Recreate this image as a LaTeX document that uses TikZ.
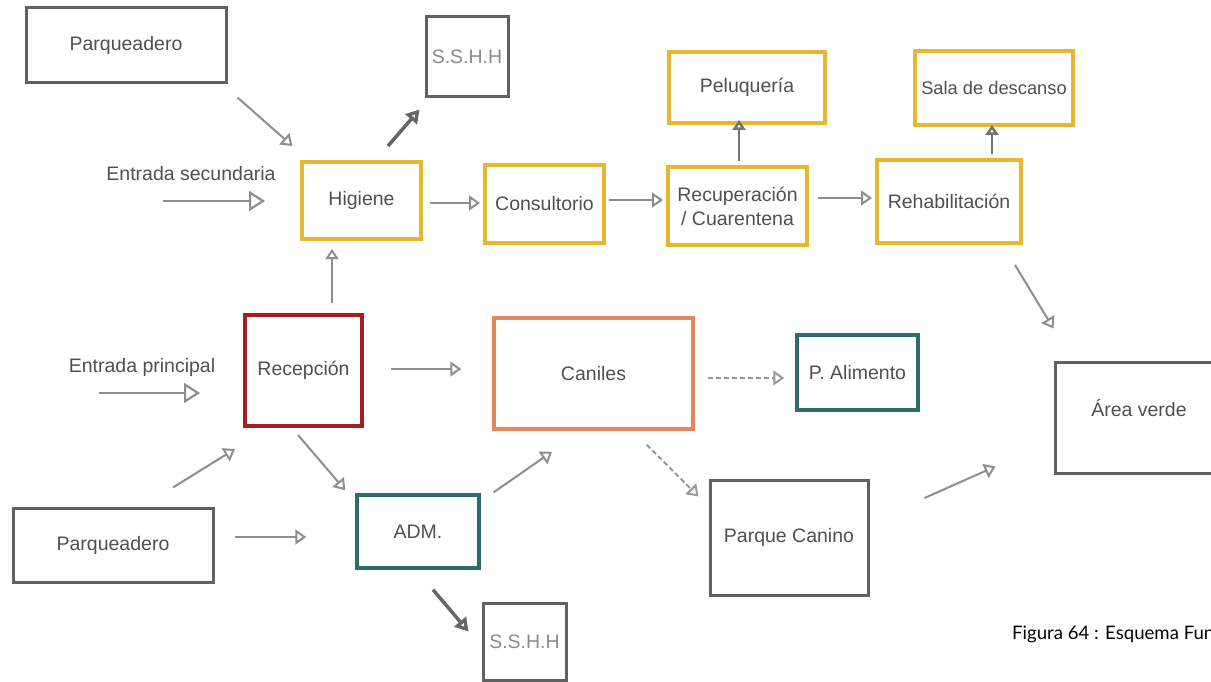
\documentclass[tikz,border=0pt]{standalone}
\usepackage{fontspec}
\setmainfont{Liberation Sans}
\newfontfamily\capfont{Lato}
\usetikzlibrary{arrows.meta,calc}
\definecolor{ygold}{HTML}{E8B730}
\definecolor{rred}{HTML}{A31F24}
\definecolor{oorange}{HTML}{E4885C}
\definecolor{tteal}{HTML}{2E6B69}
\definecolor{dgray}{HTML}{5E6260}
\definecolor{agray}{HTML}{8E8E8E}
\definecolor{tgray}{HTML}{505050}
\definecolor{lgray}{HTML}{8A8A8A}
\tikzset{
  box/.style={draw, rectangle, inner sep=0pt, text=tgray, font=\fontsize{19.5}{24}\selectfont},
  graybox/.style={box, draw=dgray, line width=3pt},
  yellowbox/.style={box, draw=ygold, line width=4pt},
  redbox/.style={box, draw=rred, line width=4pt},
  orangebox/.style={box, draw=oorange, line width=3.5pt},
  tealbox/.style={box, draw=tteal, line width=3.5pt},
  lbl/.style={text=tgray, inner sep=0pt, font=\fontsize{19.5}{24}\selectfont},
  arr/.style={draw=agray, line width=2pt, -{Triangle[open,length=11pt,width=15pt]}},
  arrbig/.style={draw=agray, line width=2.2pt, -{Triangle[open,length=16pt,width=20pt]}},
  arrdark/.style={draw=gray!90!black, line width=2.6pt, -{Triangle[open,length=10pt,width=13pt]}},
  arrthick/.style={draw=gray!80!black, line width=3.5pt, -{Triangle[open,length=13pt,width=15pt]}},
  arrdash/.style={draw=agray!90, line width=2pt, dash pattern=on 5pt off 3pt, -{Triangle[open,length=11pt,width=15pt]}}
}
\begin{document}
\begin{tikzpicture}[x=1pt,y=-1pt]
\useasboundingbox (0,0) rectangle (1211,682);
\fill[white] (0,0) rectangle (1211,682);
\clip (0,0) rectangle (1211,682);
% nodes
\node[graybox, minimum width=200pt, minimum height=75pt] (parqT) at (126,45.5) {Parqueadero};
\node[graybox, minimum width=82pt, minimum height=80pt, text=lgray] (sshhT) at (467,57) {S.S.H.H};
\node[yellowbox, minimum width=119pt, minimum height=77pt] (hig) at (361.5,200.5) {Higiene};
\node[yellowbox, minimum width=119pt, minimum height=78pt] (cons) at (544.5,204) {Consultorio};
\node[yellowbox, minimum width=139pt, minimum height=78pt, align=center] (recu) at (737.5,206) {Recuperación\\/ Cuarentena};
\node[yellowbox, minimum width=156pt, minimum height=71pt] (pelu) at (747,87.5) {Peluquería};
\node[yellowbox, minimum width=144pt, minimum height=83pt] (rehab) at (949,201.5) {Rehabilitación};
\node[yellowbox, minimum width=158pt, minimum height=74pt, font=\fontsize{18.3}{21}\selectfont] (sala) at (994,88) {Sala de descanso};
\node[redbox, minimum width=117pt, minimum height=111pt] (recep) at (303.5,370.5) {Recepción};
\node[orangebox, minimum width=199pt, minimum height=111pt] (canil) at (593.5,373.5) {Caniles};
\node[tealbox, minimum width=121pt, minimum height=75pt] (palim) at (857.5,372.5) {P. Alimento};
\node[graybox, minimum width=170pt, minimum height=111pt] (area) at (1140,417.5) {};
\node[lbl] (areat) at (1139,408) {Área verde};
\node[graybox, minimum width=200pt, minimum height=74pt] (parqB) at (113,545) {Parqueadero};
\node[tealbox, minimum width=122pt, minimum height=73pt] (adm) at (418,531.5) {ADM.};
\node[graybox, minimum width=83pt, minimum height=77pt, text=lgray] (sshhB) at (524.5,641.5) {S.S.H.H};
\node[graybox, minimum width=158pt, minimum height=115pt] (parqC) at (789,537.5) {Parque Canino};
% free labels
\node[lbl] (entS) at (191,174) {Entrada secundaria};
\node[lbl] (entP) at (142,367) {Entrada principal};
\node[anchor=west, inner sep=0pt, font=\capfont\fontsize{18.6}{23}\selectfont] (cap) at (1012,634) {Figura 64 : Esquema Funcional};
\coordinate (es0) at (163,201);
\coordinate (ep0) at (99,393);
% connectors
\draw[arr] ($(parqT.south east)+(10,13)$) -- ($(hig.north west)+(-7.5,-14)$);
\draw[arrbig] (es0) -- ($(hig.west)+(-35,0.5)$);
\draw[arrthick] ($(hig.north)+(26.5,-14)$) -- ($(sshhT.south west)+(-5,11)$);
\draw[arr] ($(hig.east)+(7,2.5)$) -- ($(cons.west)+(-3,-1)$);
\draw[arr] ($(cons.east)+(3,-4)$) -- ($(recu.west)+(-3,-6)$);
\draw[arrdark] ($(recu.north)+(1.5,-4)$) -- ($(pelu.south)+(-8,-5)$);
\draw[arr] ($(recu.east)+(9,-8)$) -- ($(rehab.west)+(-3,-3.5)$);
\draw[arrdark] ($(rehab.north)+(43,-4)$) -- ($(sala.south)+(-2,-2)$);
\draw[arr] ($(rehab.south east)+(-8,20)$) -- ($(area.north west)+(0,-32)$);
\draw[arrdark, draw=agray, line width=2pt] ($(recep.north)+(28.5,-10)$) -- ($(hig.south)+(-29.5,8)$);
\draw[arrbig] (ep0) -- ($(recep.west)+(-43,22.5)$);
\draw[arr] ($(recep.east)+(27,-1.5)$) -- ($(canil.west)+(-31,-4.5)$);
\draw[arr] ($(parqB.north)+(60,-19)$) -- ($(recep.south west)+(-8,21)$);
\draw[arr] ($(recep.south)+(-5.5,7)$) -- ($(adm.north west)+(-10,-3)$);
\draw[arr] ($(parqB.east)+(20,-8)$) -- ($(adm.west)+(-49,5.5)$);
\draw[arr] ($(adm.north east)+(13,-1)$) -- ($(canil.south)+(-41.5,21)$);
\draw[arrthick] ($(adm.south)+(15,20)$) -- ($(sshhB.north west)+(-13,30)$);
\draw[arrdash] ($(canil.east)+(13,4.5)$) -- ($(palim.west)+(-11,5.5)$);
\draw[arrdash] ($(canil.south east)+(-48,14)$) -- ($(parqC.north west)+(-10,18)$);
\draw[arr] ($(parqC.east)+(55,-39.5)$) -- ($(area.south west)+(-58,-8)$);
\end{tikzpicture}
\end{document}
